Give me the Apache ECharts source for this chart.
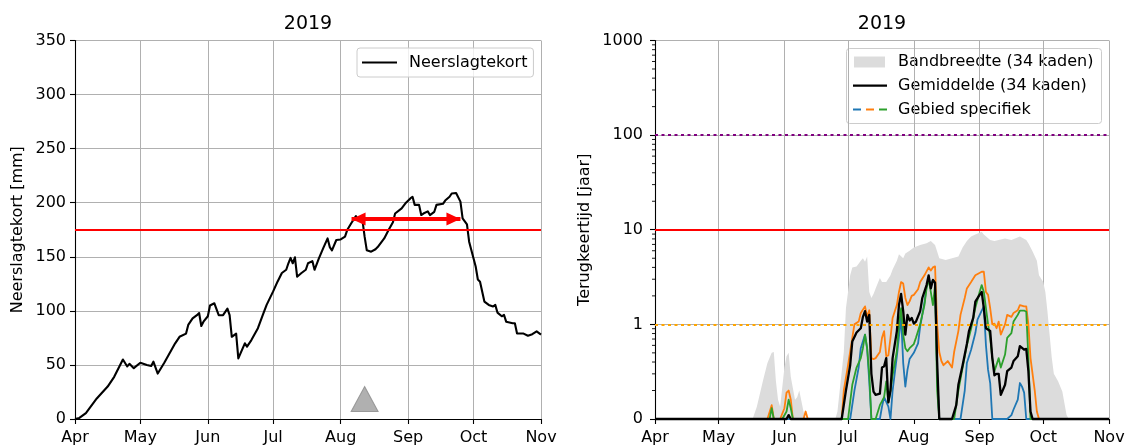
<!DOCTYPE html>
<html>
<head>
<meta charset="utf-8">
<script src="https://cdn.jsdelivr.net/npm/echarts@6/dist/echarts.min.js"></script>
<style>html,body{margin:0;padding:0;background:#fff}#c{width:1132px;height:446px}</style>
</head>
<body>
<div id="c"></div>
<script>
// ---------------- DATA ----------------
const YEAR = 2019;
const chartTitle = '2019';
const monthTicks = ['04-01','05-01','06-01','07-01','08-01','09-01','10-01','11-01'];
const monthLabels = ['Apr','May','Jun','Jul','Aug','Sep','Oct','Nov'];

// Left panel: Neerslagtekort [mm]
const neerslagDates = ['04-01','04-03','04-06','04-11','04-16','04-19','04-23','04-25','04-26','04-28',
  '05-01','05-04','05-06','05-07','05-09','05-12','05-17','05-19','05-22','05-23','05-25','05-27','05-28','05-29','05-30',
  '06-01','06-02','06-04','06-06','06-08','06-09','06-10','06-11','06-12','06-14','06-15','06-18','06-19','06-21','06-24','06-26','06-28',
  '07-01','07-03','07-05','07-07','07-08','07-09','07-10','07-11','07-12','07-14','07-16','07-17','07-19','07-20','07-22','07-24','07-26','07-27','07-28','07-30',
  '08-01','08-03','08-04','08-06','08-08','08-09','08-11','08-12','08-13','08-15','08-17','08-18','08-21','08-23','08-25','08-26','08-29','08-31',
  '09-02','09-03','09-04','09-06','09-07','09-08','09-10','09-11','09-13','09-14','09-17','09-18','09-20','09-21','09-23','09-25','09-26','09-28','09-29',
  '10-01','10-02','10-03','10-04','10-06','10-08','10-10','10-11','10-12','10-14','10-15','10-16','10-19','10-20','10-21','10-24','10-26','10-28','10-30','11-01'];
const neerslagValues = [0,1,5.5,19,30,39,55,48.6,51,47,
  52,50,49,53,42,52,70,76,79,87,93,96,98,86,90,
  95,105,107,96,96,99,102,96,76,79,56,70,67,73,84,95,105.5,
  118,127,135,138,144,149,144,149.5,131.6,135,138,144,146,138,148.6,158,167,159,156,165.5,
  166,168.6,174.7,181.5,187.6,184,184,168.6,156,154.7,157,159,167,174.7,182,190,194.7,200,
  204,205.5,198,198,188.6,190,192,188.6,191.6,198,199,202,205.5,208.5,209,201,185.5,180,164,
  148.6,141,129,127,108.6,105.5,104,105.5,98.4,95,96.3,90,88.5,88.5,79,79,77,78.4,81,78];
const drempelNeerslag = 175;
const arrowStartDate = '08-06', arrowEndDate = '09-25', arrowValue = 185;
const markerDate = '08-12', markerValue = 18.5;
const leftYTicks = [0,50,100,150,200,250,300,350];

// Right panel: Terugkeertijd [jaar]
const bandDates = ['04-01','05-17','05-19','05-22','05-24','05-26','05-27','05-28','05-29','05-30',
  '06-01','06-02','06-03','06-04','06-06','06-07','06-08','06-10','06-11','06-25','06-26','06-29','06-30',
  '07-02','07-03','07-05','07-07','07-08','07-09','07-10','07-11','07-12','07-13','07-14','07-16','07-17','07-19','07-21','07-22','07-24','07-25','07-27','07-28','07-30',
  '08-01','08-04','08-07','08-09','08-11','08-12','08-13','08-16','08-19','08-22','08-24','08-26','08-28','08-30',
  '09-02','09-03','09-06','09-08','09-10','09-13','09-16','09-20','09-23','09-24','09-26','09-28','09-29',
  '10-01','10-02','10-03','10-04','10-05','10-06','10-08','10-10','10-12','10-13','11-01'];
const bandUpper = [0,0,0.135,0.26,0.39,0.5,0.51,0.25,0.16,0.135,
  0.35,0.46,0.5,0.28,0.16,0.17,0.2,0.12,0,0,0.12,0.51,1.48,
  3.3,4.0,4.1,4.7,5.0,4.6,5.2,2.2,1.9,2.1,2.4,3.1,2.8,2.8,3.3,3.8,4.7,5.5,5.0,5.6,6.0,
  6.5,6.9,7.2,7.6,6.9,5.9,5.0,4.8,5.0,5.2,6.5,7.6,8.5,8.9,
  9.5,8.9,7.8,7.6,7.8,8.1,7.8,8.5,7.8,7.2,5.9,4.7,3.3,
  2.8,2.2,1.36,0.78,0.45,0.3,0.25,0.195,0.11,0,0];

const gemDates = ['04-01','06-02','06-03','06-04','06-28','06-30',
  '07-02','07-03','07-05','07-07','07-08','07-09','07-10','07-11','07-12','07-13','07-14','07-16','07-17','07-18','07-19','07-20','07-21','07-22','07-24','07-25','07-26','07-27','07-28','07-29','07-30','07-31',
  '08-01','08-02','08-04','08-05','08-07','08-08','08-09','08-10','08-11','08-12','08-13','08-19','08-21','08-22','08-24','08-26','08-27','08-29','08-30',
  '09-01','09-02','09-03','09-04','09-06','09-07','09-08','09-09','09-10','09-11','09-13','09-14','09-16','09-17','09-19','09-20','09-22','09-23','09-24','09-25','09-26','11-01'];
const gemValues = [0,0,0.11,0,0,0.2,
  0.37,0.66,0.82,0.91,1.2,1.38,1.07,1.26,0.3,0.195,0.18,0.185,0.35,0.36,0.44,0.15,0.2,0.44,0.85,1.6,2.1,1.38,0.78,1.26,1.1,1.17,
  1.02,1.07,1.38,1.9,2.6,3.3,2.4,2.95,2.75,0.4,0,0,0.14,0.23,0.37,0.62,0.85,1.17,1.74,
  2.05,2.2,1.48,0.91,0.85,0.44,0.29,0.3,0.3,0.18,0.23,0.32,0.35,0.41,0.46,0.59,0.54,0.55,0.32,0.12,0,0];

const blueDates = ['04-01','07-02','07-04','07-06','07-07','07-09','07-10','07-11','07-12','07-16','07-17','07-18','07-20','07-21','07-22','07-24','07-26','07-27','07-28','07-29','07-30',
  '08-01','08-03','08-04','08-06','08-07','08-08','08-09','08-10','08-11','08-12','08-13','08-23','08-25','08-26','08-28','08-30','08-31',
  '09-02','09-03','09-04','09-05','09-06','09-07','09-14','09-16','09-17','09-19','09-20','09-21','09-22','09-23','11-01'];
const blueValues = [0,0,0.2,0.35,0.56,0.78,0.55,0.25,0,0,0.135,0.17,0.135,0,0.2,0.46,1.2,0.39,0.22,0.33,0.43,
  0.5,0.63,0.95,1.7,2.5,3.0,2.6,2.95,2.8,0.3,0,0,0.2,0.39,0.54,0.81,1.12,
  1.4,1.55,0.6,0.33,0.24,0,0,0.11,0.126,0.16,0.24,0.22,0.19,0,0];

const orangeDates = ['04-01','05-24','05-26','05-27','05-30','06-01','06-02','06-03','06-04','06-05','06-10','06-11','06-12','06-28','06-29',
  '07-01','07-03','07-04','07-06','07-07','07-09','07-10','07-11','07-12','07-13','07-14','07-16','07-17','07-18','07-19','07-20','07-21','07-22','07-24','07-25','07-26','07-27','07-28','07-29','07-30','07-31',
  '08-01','08-03','08-04','08-06','08-08','08-09','08-10','08-11','08-12','08-13','08-14','08-15','08-17','08-19','08-20','08-22','08-23','08-25','08-26','08-28','08-30',
  '09-02','09-03','09-04','09-05','09-06','09-07','09-08','09-09','09-10','09-11','09-13','09-14','09-16','09-17','09-19','09-20','09-22','09-23','09-24','09-25','09-27','09-28','09-29','11-01'];
const orangeValues = [0,0,0.14,0,0,0.13,0.19,0.2,0.16,0,0,0.12,0,0,0.2,
  0.37,0.72,1.0,1.07,1.32,1.55,1.2,1.41,0.44,0.43,0.44,0.51,0.72,0.85,0.46,0.47,0.72,1.17,1.6,2.2,2.8,2.7,1.9,1.6,1.75,2.0,
  2.05,2.35,2.8,3.3,4.0,3.7,4.0,4.1,1.0,0.51,0.41,0.37,0.41,0.35,0.51,0.85,1.26,1.9,2.4,2.8,3.3,
  3.6,3.6,2.2,2.05,1.48,1.0,1.02,0.91,1.07,0.78,1.0,1.26,1.2,1.32,1.41,1.6,1.55,1.55,1.0,0.44,0.2,0.12,0,0];

const greenDates = ['04-01','05-25','05-26','05-27','05-31','06-02','06-03','06-04','06-05',
  '07-01','07-03','07-05','07-07','07-08','07-09','07-10','07-11','07-12','07-14','07-16','07-18','07-19','07-20','07-21','07-22','07-24','07-25','07-26','07-27','07-28','07-29','07-30',
  '08-01','08-02','08-04','08-06','08-07','08-08','08-09','08-10','08-11','08-12','08-13','08-20','08-22','08-24','08-26','08-28','08-30',
  '09-01','09-02','09-03','09-05','09-06','09-07','09-08','09-10','09-11','09-13','09-14','09-16','09-17','09-19','09-20','09-22','09-23','09-24','09-25','11-01'];
const greenValues = [0,0,0.13,0,0,0.12,0.16,0.13,0,
  0,0.23,0.35,0.44,0.56,0.78,0.56,0.3,0,0,0.14,0.17,0.25,0.15,0.2,0.29,0.52,1.0,1.48,0.78,0.56,0.52,0.56,
  0.62,0.72,1.0,1.6,2.4,3.0,2.2,1.6,2.6,0.2,0,0,0.2,0.35,0.6,0.9,1.5,
  2.2,2.6,2.2,1.0,0.72,0.44,0.32,0.44,0.35,0.48,0.72,0.81,1.07,1.26,1.4,1.4,1.36,0.44,0,0];

const refLevels = [1, 10, 100];
const rightYTicks = [0.1, 1, 10, 100, 1000];
const rightYTickLabels = ['0', '1', '10', '100', '1000'];
const minorTickValues = [0.2,0.3,0.4,0.5,0.6,0.7,0.8,0.9, 2,3,4,5,6,7,8,9, 20,30,40,50,60,70,80,90, 200,300,400,500,600,700,800,900];

// ---------------- CHART ----------------
const FONT = 'DejaVu Sans';
const ts = s => new Date(YEAR, +s.slice(0, 2) - 1, +s.slice(3, 5)).getTime();
const monthTickTs = monthTicks.map(ts);
const LOGFLOOR = rightYTicks[0];
const pairs = (dates, vals, floor) => dates.map((d, i) => [ts(d), floor ? Math.max(vals[i], floor) : vals[i]]);
const monthName = v => {
  let best = 0, bd = Infinity;
  monthTickTs.forEach((t, i) => { const d = Math.abs(t - v); if (d < bd) { bd = d; best = i; } });
  return monthLabels[best];
};

const xAxisFor = gi => ({
  type: 'value', gridIndex: gi, min: monthTickTs[0], max: monthTickTs[monthTickTs.length - 1],
  axisLine: { show: true, onZero: false, lineStyle: { color: '#000', width: 1.1 } },
  axisTick: { show: true, inside: false, length: 5, lineStyle: { color: '#000', width: 1.1 }, customValues: monthTickTs },
  axisLabel: { show: true, customValues: monthTickTs, formatter: v => monthName(v), fontSize: 16, fontFamily: FONT, color: '#000', margin: 11, hideOverlap: false },
  splitLine: { show: true, lineStyle: { color: '#b0b0b0', width: 1 } },
  axisPointer: { show: false }
});

const axisText = { fontSize: 16, fontFamily: FONT, color: '#000' };

const chart = echarts.init(document.getElementById('c'), null, { renderer: 'canvas' });
chart.setOption({
  animation: false,
  backgroundColor: '#fff',
  grid: [
    { left: 75, right: 591, top: 40.5, bottom: 27 },
    { left: 655, right: 23, top: 40.5, bottom: 27 }
  ],
  xAxis: [xAxisFor(0), xAxisFor(1)],
  yAxis: [
    {
      type: 'value', gridIndex: 0, min: leftYTicks[0], max: leftYTicks[leftYTicks.length - 1], interval: leftYTicks[1] - leftYTicks[0],
      axisLine: { show: true, lineStyle: { color: '#000', width: 1.1 } },
      axisTick: { show: true, inside: false, length: 5, lineStyle: { color: '#000', width: 1.1 } },
      axisLabel: Object.assign({ margin: 9 }, axisText),
      splitLine: { show: true, lineStyle: { color: '#b0b0b0', width: 1 } },
      name: 'Neerslagtekort [mm]', nameLocation: 'middle', nameGap: 49, nameTextStyle: axisText
    },
    {
      type: 'log', logBase: 10, gridIndex: 1, min: rightYTicks[0], max: rightYTicks[rightYTicks.length - 1],
      axisLine: { show: true, lineStyle: { color: '#000', width: 1.1 } },
      axisTick: { show: true, inside: false, length: 5, lineStyle: { color: '#000', width: 1.1 } },
      axisLabel: Object.assign({ margin: 12, formatter: v => {
        let best = 0, bd = Infinity;
        rightYTicks.forEach((t, i) => { const d = Math.abs(Math.log10(t) - Math.log10(v)); if (d < bd) { bd = d; best = i; } });
        return rightYTickLabels[best];
      } }, axisText),
      splitLine: { show: true, lineStyle: { color: '#b0b0b0', width: 1 } },
      name: 'Terugkeertijd [jaar]', nameLocation: 'middle', nameGap: 62, nameTextStyle: axisText
    }
  ],
  legend: [{
    data: [{ name: 'Neerslagtekort', icon: 'rect' }], left: 357, top: 48, orient: 'vertical',
    padding: [5, 6, 5, 5], itemWidth: 35, itemHeight: 2.2, itemGap: 0,
    backgroundColor: 'rgba(255,255,255,0.8)', borderColor: '#cccccc', borderWidth: 1, borderRadius: 3,
    itemStyle: { color: '#000', borderWidth: 0 },
    textStyle: { fontSize: 16, fontFamily: FONT, color: '#000', padding: [0, 0, 0, 7], lineHeight: 19 },
    selectedMode: false
  }],
  graphic: [
    { type: 'text', x: 308, y: 24, style: { text: chartTitle, font: '19px "DejaVu Sans"', fill: '#000', align: 'center', verticalAlign: 'middle' } },
    { type: 'text', x: 882, y: 24, style: { text: chartTitle, font: '19px "DejaVu Sans"', fill: '#000', align: 'center', verticalAlign: 'middle' } },
    { type: 'group', z: 100, children: [
      { type: 'rect', shape: { x: 846.5, y: 48.5, width: 255, height: 75, r: 3 }, style: { fill: 'rgba(255,255,255,0.8)', stroke: '#cccccc', lineWidth: 1 } },
      { type: 'rect', shape: { x: 854, y: 56.5, width: 31, height: 11 }, style: { fill: '#dcdcdc' } },
      { type: 'line', shape: { x1: 853, y1: 85.7, x2: 887, y2: 85.7 }, style: { stroke: '#000', lineWidth: 2.2 } },
      { type: 'line', shape: { x1: 853, y1: 109.5, x2: 861, y2: 109.5 }, style: { stroke: '#1f77b4', lineWidth: 2 } },
      { type: 'line', shape: { x1: 866, y1: 109.5, x2: 874, y2: 109.5 }, style: { stroke: '#ff7f0e', lineWidth: 2 } },
      { type: 'line', shape: { x1: 879, y1: 109.5, x2: 887, y2: 109.5 }, style: { stroke: '#2ca02c', lineWidth: 2 } },
      { type: 'text', x: 898, y: 62, style: { text: 'Bandbreedte (34 kaden)', font: '16px "DejaVu Sans"', fill: '#000', verticalAlign: 'middle' } },
      { type: 'text', x: 898, y: 86, style: { text: 'Gemiddelde (34 kaden)', font: '16px "DejaVu Sans"', fill: '#000', verticalAlign: 'middle' } },
      { type: 'text', x: 898, y: 109.5, style: { text: 'Gebied specifiek', font: '16px "DejaVu Sans"', fill: '#000', verticalAlign: 'middle' } }
    ] }
  ],
  series: [
    {
      name: 'Neerslagtekort', type: 'line', xAxisIndex: 0, yAxisIndex: 0, data: pairs(neerslagDates, neerslagValues),
      symbol: 'none', showSymbol: false, lineStyle: { color: '#000', width: 2.1, join: 'round' }, itemStyle: { color: '#000' }, z: 3, silent: true
    },
    {
      type: 'line', xAxisIndex: 0, yAxisIndex: 0, data: [], z: 5, silent: true,
      markLine: {
        silent: true, symbol: 'none', label: { show: false }, animation: false,
        data: [
          { yAxis: drempelNeerslag, lineStyle: { color: '#ff0000', width: 2, type: 'solid' } },
          [
            { coord: [ts(arrowStartDate), arrowValue], symbol: 'triangle', symbolSize: [13, 14], symbolOffset: [0, 7], lineStyle: { color: '#ff0000', width: 4, type: 'solid' } },
            { coord: [ts(arrowEndDate), arrowValue], symbol: 'triangle', symbolSize: [13, 14], symbolOffset: [0, 7] }
          ]
        ]
      }
    },
    {
      type: 'scatter', xAxisIndex: 0, yAxisIndex: 0, data: [[ts(markerDate), markerValue]], symbol: 'triangle', symbolSize: [27, 25],
      itemStyle: { color: '#9c9c9c', borderColor: '#8a8a8a', borderWidth: 1 }, z: 4, silent: true
    },
    {
      name: 'Bandbreedte (34 kaden)', type: 'line', xAxisIndex: 1, yAxisIndex: 1, data: pairs(bandDates, bandUpper, LOGFLOOR),
      symbol: 'none', showSymbol: false, lineStyle: { width: 0, opacity: 0 }, areaStyle: { color: '#dcdcdc', opacity: 1, origin: 'start' }, z: 1, silent: true
    },
    {
      type: 'line', xAxisIndex: 1, yAxisIndex: 1, data: [], z: 2, silent: true,
      markLine: {
        silent: true, symbol: 'none', label: { show: false }, animation: false,
        data: [
          { yAxis: refLevels[0], lineStyle: { color: '#ffa500', width: 2, type: [3, 3.5] } },
          { yAxis: refLevels[1], lineStyle: { color: '#ff0000', width: 2, type: 'solid' } },
          { yAxis: refLevels[2], lineStyle: { color: '#800080', width: 2, type: [3, 3.5] } }
        ]
      }
    },
    {
      name: 'Gebied specifiek 1', type: 'line', xAxisIndex: 1, yAxisIndex: 1, data: pairs(blueDates, blueValues, LOGFLOOR),
      symbol: 'none', lineStyle: { color: '#1f77b4', width: 1.8, join: 'round' }, itemStyle: { color: '#1f77b4' }, z: 3, clip: false, silent: true
    },
    {
      name: 'Gebied specifiek 2', type: 'line', xAxisIndex: 1, yAxisIndex: 1, data: pairs(orangeDates, orangeValues, LOGFLOOR),
      symbol: 'none', lineStyle: { color: '#ff7f0e', width: 1.8, join: 'round' }, itemStyle: { color: '#ff7f0e' }, z: 3, clip: false, silent: true
    },
    {
      name: 'Gebied specifiek 3', type: 'line', xAxisIndex: 1, yAxisIndex: 1, data: pairs(greenDates, greenValues, LOGFLOOR),
      symbol: 'none', lineStyle: { color: '#2ca02c', width: 1.8, join: 'round' }, itemStyle: { color: '#2ca02c' }, z: 3, clip: false, silent: true
    },
    {
      name: 'Gemiddelde (34 kaden)', type: 'line', xAxisIndex: 1, yAxisIndex: 1, data: pairs(gemDates, gemValues, LOGFLOOR),
      symbol: 'none', lineStyle: { color: '#000', width: 2.3, join: 'round' }, itemStyle: { color: '#000' }, z: 4, clip: false, silent: true
    },
    {
      type: 'custom', xAxisIndex: 1, yAxisIndex: 1, silent: true, clip: false, z: 6,
      data: minorTickValues.map(v => [monthTickTs[0], v]),
      renderItem: (params, api) => {
        const p = api.coord([api.value(0), api.value(1)]);
        return { type: 'line', shape: { x1: p[0] - 3, y1: p[1], x2: p[0], y2: p[1] }, style: { stroke: '#000', lineWidth: 0.9 } };
      }
    }
  ]
});
</script>
</body>
</html>
